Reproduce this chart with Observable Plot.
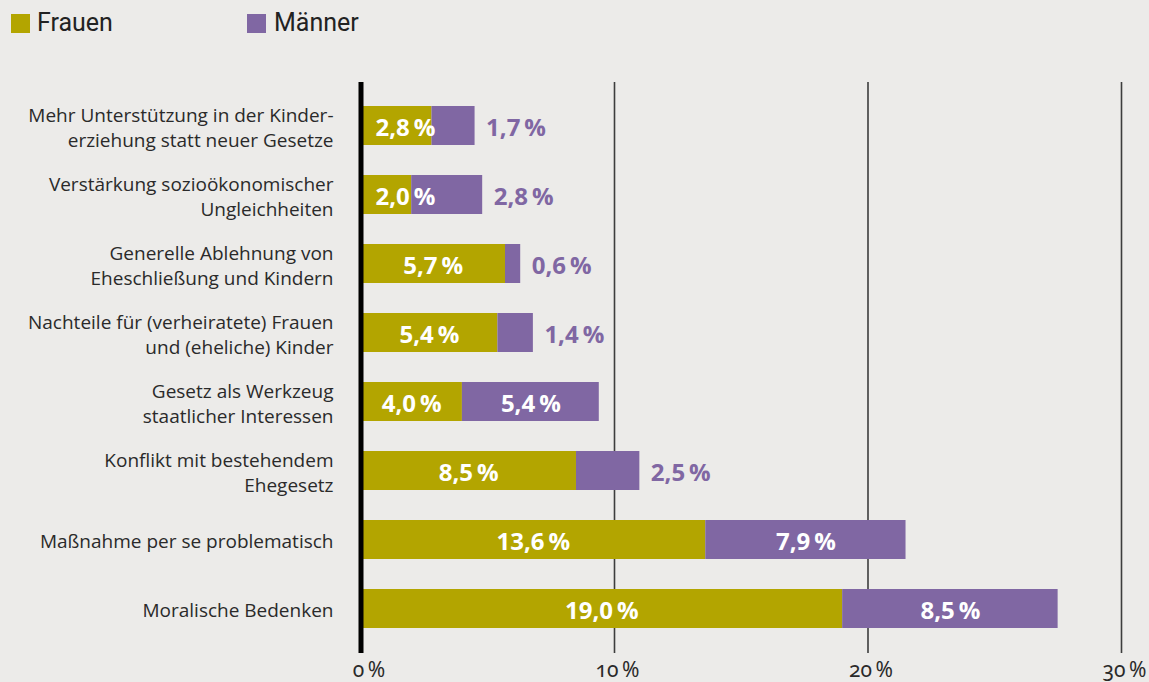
<!DOCTYPE html>
<html>
<head>
<meta charset="utf-8">
<script src="https://cdn.jsdelivr.net/npm/d3@7"></script>
<script src="https://cdn.jsdelivr.net/npm/@observablehq/plot@0.6"></script>
<style>
  html, body { margin: 0; padding: 0; background: #ECEBE9; }
  body { width: 1149px; height: 682px; overflow: hidden; font-family: Roboto, "Liberation Sans", sans-serif; }
  #legend { position: relative; height: 60px; }
  .sw { position: absolute; top: 14px; width: 19px; height: 19px; }
  .lt { position: absolute; top: 8px; font-size: 25px; color: #222; line-height: 30px; }
  #chart svg { display: block; overflow: visible; }
</style>
</head>
<body>
<div id="legend"></div>
<div id="chart"></div>
<script>
const categories = [
  "Mehr Unterstützung in der Kinder-\nerziehung statt neuer Gesetze",
  "Verstärkung sozioökonomischer\nUngleichheiten",
  "Generelle Ablehnung von\nEheschließung und Kindern",
  "Nachteile für (verheiratete) Frauen\nund (eheliche) Kinder",
  "Gesetz als Werkzeug\nstaatlicher Interessen",
  "Konflikt mit bestehendem\nEhegesetz",
  "Maßnahme per se problematisch",
  "Moralische Bedenken"
];
const frauen = [2.8, 2.0, 5.7, 5.4, 4.0, 8.5, 13.6, 19.0];
const maenner = [1.7, 2.8, 0.6, 1.4, 5.4, 2.5, 7.9, 8.5];
const seriesNames = ["Frauen", "Männer"];
const seriesColors = ["#B3A500", "#8067A3"];
const xTicks = [0, 10, 20, 30];

// legend
const legend = document.getElementById("legend");
const legendPos = [[11, 37], [247, 274]];
seriesNames.forEach((name, i) => {
  const sw = document.createElement("div");
  sw.className = "sw"; sw.style.left = legendPos[i][0] + "px"; sw.style.background = seriesColors[i];
  const t = document.createElement("div");
  t.className = "lt"; t.style.left = legendPos[i][1] + "px"; t.textContent = name;
  legend.append(sw, t);
});

const rows = categories.map((c, i) => ({cat: c, f: frauen[i], m: maenner[i]}));
const segs = rows.flatMap(r => [
  {cat: r.cat, s: "Frauen", x1: 0, x2: r.f},
  {cat: r.cat, s: "Männer", x1: r.f, x2: r.f + r.m}
]);
const fmt = v => v.toFixed(1).replace(".", ",") + "\u2009%";
const inside = r => r.m >= 3;
const valFont = "'Open Sans', Roboto, sans-serif";

const chart = Plot.plot({
  width: 1149,
  height: 622,
  marginLeft: 360.5,
  marginRight: 28,
  marginTop: 12,
  marginBottom: 20,
  style: {background: "transparent", fontFamily: "'Open Sans', Roboto, sans-serif", color: "#2a2a2a", overflow: "visible"},
  x: {domain: [0, 30]},
  y: {domain: categories, padding: 0.43},
  color: {domain: seriesNames, range: seriesColors},
  marks: [
    Plot.ruleX(xTicks.filter(d => d > 0), {stroke: "#3d3d3d", strokeWidth: 1.6, insetTop: 10, insetBottom: 9}),
    Plot.barX(segs, {y: "cat", x1: "x1", x2: "x2", fill: "s"}),
    Plot.ruleX([0], {stroke: "#000", strokeWidth: 5, insetTop: 10, insetBottom: 9}),
    Plot.text(rows, {
      y: "cat", x: r => Math.max(r.f / 2, 1.75), text: r => fmt(r.f),
      fill: "white", fontSize: 24, fontWeight: "bold", dy: 2, fontFamily: valFont
    }),
    Plot.text(rows.filter(inside), {
      y: "cat", x: r => r.f + r.m / 2, text: r => fmt(r.m),
      fill: "white", fontSize: 24, fontWeight: "bold", dy: 2, fontFamily: valFont
    }),
    Plot.text(rows.filter(r => !inside(r)), {
      y: "cat", x: r => r.f + r.m, text: r => fmt(r.m),
      fill: seriesColors[1], fontSize: 24, fontWeight: "bold", textAnchor: "start", dx: 11, dy: 2, fontFamily: valFont
    }),
    Plot.axisY({tickSize: 0, tickPadding: 27.5, fontSize: 19, lineHeight: 1.32, label: null, fill: "#2a2a2a"}),
    Plot.axisX({ticks: [0], tickSize: 0, tickPadding: 0, fontSize: 21, label: null, dx: 8,
      tickFormat: d => d + "\u2009%", fill: "#2a2a2a", fontFamily: "'Noto Sans', Roboto, sans-serif"}),
    Plot.axisX({ticks: xTicks.filter(d => d > 0), tickSize: 0, tickPadding: 0, fontSize: 21, label: null, dx: 3,
      tickFormat: d => d + "\u2009%", fill: "#2a2a2a", fontFamily: "'Noto Sans', Roboto, sans-serif"})
  ]
});
chart.querySelectorAll("g[aria-label='x-axis tick label'] text").forEach(t => t.style.fontVariantNumeric = "oldstyle-nums");
document.getElementById("chart").append(chart);
</script>
</body>
</html>
